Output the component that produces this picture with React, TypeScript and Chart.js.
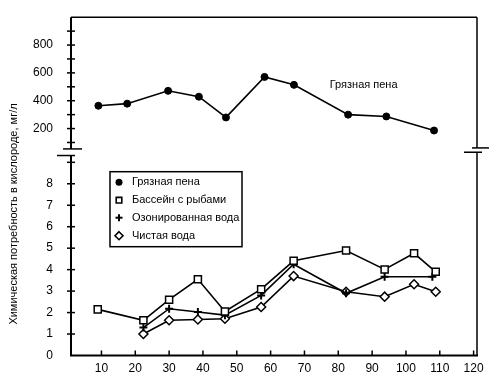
import { useEffect, useRef } from 'react';
import { Chart, registerables } from 'chart.js';

Chart.register(...registerables);

const FONT = "'Liberation Sans', Arial, sans-serif";

// ---- data ----
const SERIES_NAMES = ['Грязная пена', 'Бассейн с рыбами', 'Озонированная вода', 'Чистая вода'];
const Y_TITLE = 'Химическая потребность в кислороде, мг/л';
const NOTE_TEXT = 'Грязная пена';
const NOTE_X = 87.5;
const NOTE_Y = 513;

const X_TICKS = [10, 20, 30, 40, 50, 60, 70, 80, 90, 100, 110, 120];
const TOP_TICKS = [200, 400, 600, 800];
const TOP_MINOR = [100, 200, 300, 400, 500, 600, 700, 800, 900];
const BOTTOM_TICKS = [0, 1, 2, 3, 4, 5, 6, 7, 8];
const BOTTOM_MINOR = [1, 2, 3, 4, 5, 6, 7, 8, 9];

const FOAM_X = [9.1, 17.6, 29.7, 38.8, 46.8, 58.2, 66.9, 82.9, 94.2, 108.3];
const FOAM_Y = [364, 379, 471, 429, 280, 571, 514, 300, 287, 186];

const POOL_X = [8.9, 22.4, 30, 38.5, 46.5, 57.2, 66.8, 82.3, 93.7, 102.4, 108.8];
const POOL_Y = [2.15, 1.64, 2.6, 3.55, 2.05, 3.09, 4.41, 4.89, 4.01, 4.76, 3.9];

const OZONE_X = [22.4, 30, 38.5, 46.5, 57.2, 66.8, 82.3, 93.7, 107.8];
const OZONE_Y = [1.3, 2.18, 2.03, 1.88, 2.8, 4.25, 2.9, 3.67, 3.67];

const CLEAN_X = [22.4, 30, 38.5, 46.5, 57.2, 66.8, 82.3, 93.7, 102.4, 108.8];
const CLEAN_Y = [1.0, 1.64, 1.68, 1.71, 2.26, 3.7, 2.97, 2.74, 3.32, 2.97];

const pts = (xs: number[], ys: number[]) => xs.map((x, i) => ({ x, y: ys[i] }));

function line(ctx: CanvasRenderingContext2D, x1: number, y1: number, x2: number, y2: number) {
  ctx.beginPath();
  ctx.moveTo(x1, y1);
  ctx.lineTo(x2, y2);
  ctx.stroke();
}

function drawMarker(ctx: CanvasRenderingContext2D, kind: string, x: number, y: number) {
  ctx.save();
  ctx.strokeStyle = '#000';
  ctx.fillStyle = '#000';
  if (kind === 'circle') {
    ctx.beginPath();
    ctx.arc(x, y, 3.5, 0, Math.PI * 2);
    ctx.fill();
  } else if (kind === 'rect') {
    ctx.lineWidth = 1.6;
    ctx.fillStyle = '#fff';
    ctx.beginPath();
    ctx.rect(x - 2.8, y - 2.8, 5.6, 5.6);
    ctx.fill();
    ctx.stroke();
  } else if (kind === 'cross') {
    ctx.lineWidth = 2;
    line(ctx, x - 3.5, y, x + 3.5, y);
    line(ctx, x, y - 3.5, x, y + 3.5);
  } else {
    ctx.lineWidth = 1.6;
    ctx.fillStyle = '#fff';
    ctx.beginPath();
    ctx.moveTo(x, y - 4);
    ctx.lineTo(x + 4, y);
    ctx.lineTo(x, y + 4);
    ctx.lineTo(x - 4, y);
    ctx.closePath();
    ctx.fill();
    ctx.stroke();
  }
  ctx.restore();
}

const MARKERS = ['circle', 'rect', 'cross', 'rectRot'];

const decorPlugin = {
  id: 'decor',
  afterDraw(chart: any) {
    const ctx: CanvasRenderingContext2D = chart.ctx;
    const { left, right, top, bottom } = chart.chartArea;
    const xs = chart.scales.x;
    const yT = chart.scales.yTop;
    const yB = chart.scales.yBot;
    const brk = yT.bottom;
    ctx.save();
    ctx.strokeStyle = '#000';
    ctx.lineCap = 'butt';

    // left axis (broken)
    ctx.lineWidth = 2;
    line(ctx, left, top, left, brk - 3.3);
    line(ctx, left, brk + 3.3, left, bottom);
    // bottom axis
    line(ctx, left - 1, bottom, right + 1, bottom);
    // top & right frame
    ctx.lineWidth = 1.5;
    line(ctx, left, top, right, top);
    line(ctx, right, top, right, brk - 4.3);
    line(ctx, right, brk, right, bottom);

    // break marks
    ctx.lineWidth = 1.5;
    line(ctx, left - 8, brk - 3.3, left + 11, brk - 3.3);
    line(ctx, left - 14, brk + 3.3, left + 4, brk + 3.3);
    line(ctx, right - 5, brk - 4.3, right + 12, brk - 4.3);
    line(ctx, right - 13, brk, right + 5, brk);

    // ticks on the left axis (crossing)
    ctx.lineWidth = 1.5;
    TOP_MINOR.forEach((v) => {
      const y = yT.getPixelForValue(v);
      line(ctx, left - 4, y, left + 4, y);
    });
    BOTTOM_MINOR.forEach((v) => {
      const y = yB.getPixelForValue(v);
      line(ctx, left - 4, y, left + 4, y);
    });
    // ticks on x axis (inward)
    X_TICKS.forEach((v) => {
      const x = xs.getPixelForValue(v);
      line(ctx, x, bottom, x, bottom - 5);
    });

    // y title
    ctx.save();
    ctx.translate(14, 214);
    ctx.rotate(-Math.PI / 2);
    ctx.fillStyle = '#000';
    ctx.font = `11px ${FONT}`;
    ctx.textAlign = 'center';
    ctx.textBaseline = 'middle';
    ctx.fillText(Y_TITLE, 0, 0);
    ctx.restore();

    // annotation
    ctx.fillStyle = '#000';
    ctx.font = `11px ${FONT}`;
    ctx.textAlign = 'center';
    ctx.textBaseline = 'middle';
    ctx.fillText(NOTE_TEXT, xs.getPixelForValue(NOTE_X), yT.getPixelForValue(NOTE_Y));

    // legend box
    const bx = left + 39;
    const by = top + 154.5;
    const bw = 132;
    const bh = 75;
    ctx.fillStyle = '#fff';
    ctx.fillRect(bx, by, bw, bh);
    ctx.lineWidth = 1.5;
    ctx.strokeRect(bx, by, bw, bh);
    const rowY = [10.5, 28.5, 46, 64];
    SERIES_NAMES.forEach((name, i) => {
      const y = by + rowY[i];
      drawMarker(ctx, MARKERS[i], bx + 9, y);
      ctx.fillStyle = '#000';
      ctx.font = `11px ${FONT}`;
      ctx.textAlign = 'left';
      ctx.textBaseline = 'middle';
      ctx.fillText(name, bx + 22, y);
    });
    ctx.restore();
  },
};

export default function App() {
  const ref = useRef<HTMLCanvasElement | null>(null);

  useEffect(() => {
    if (!ref.current) return;
    const common = {
      borderColor: '#000',
      borderWidth: 1.6,
      tension: 0,
      fill: false,
      pointBorderColor: '#000',
    };
    const chart = new Chart(ref.current, {
      type: 'line',
      data: {
        datasets: [
          {
            ...common,
            label: SERIES_NAMES[0],
            data: pts(FOAM_X, FOAM_Y),
            yAxisID: 'yTop',
            pointStyle: 'circle',
            pointRadius: 3.5,
            pointBackgroundColor: '#000',
            pointBorderWidth: 1,
          },
          {
            ...common,
            label: SERIES_NAMES[1],
            data: pts(POOL_X, POOL_Y),
            yAxisID: 'yBot',
            pointStyle: 'rect',
            pointRadius: 5,
            pointBackgroundColor: '#fff',
            pointBorderWidth: 1.5,
          },
          {
            ...common,
            label: SERIES_NAMES[2],
            data: pts(OZONE_X, OZONE_Y),
            yAxisID: 'yBot',
            pointStyle: 'cross',
            pointRadius: 4,
            pointBorderWidth: 2,
          },
          {
            ...common,
            label: SERIES_NAMES[3],
            data: pts(CLEAN_X, CLEAN_Y),
            yAxisID: 'yBot',
            pointStyle: 'rectRot',
            pointRadius: 4.5,
            pointBackgroundColor: '#fff',
            pointBorderWidth: 1.5,
          },
        ],
      },
      options: {
        responsive: false,
        animation: false,
        events: [],
        layout: { padding: { top: 13.5, right: 23, bottom: 0, left: 0 } },
        plugins: { legend: { display: false }, tooltip: { enabled: false } },
        scales: {
          x: {
            type: 'linear',
            position: 'bottom',
            min: 1,
            max: 121,
            grid: { display: false },
            border: { display: false },
            afterBuildTicks: (s: any) => {
              s.ticks = X_TICKS.map((v) => ({ value: v }));
            },
            afterFit: (s: any) => {
              s.height = 24.5;
            },
            ticks: { color: '#000', font: { family: FONT, size: 12 }, padding: -2, maxRotation: 0, autoSkip: false },
          },
          yBot: {
            type: 'linear',
            position: 'left',
            stack: 'y',
            stackWeight: 205.5,
            weight: 0,
            min: 0,
            max: 9.47,
            grid: { display: false },
            border: { display: false },
            afterBuildTicks: (s: any) => {
              s.ticks = BOTTOM_TICKS.map((v) => ({ value: v }));
            },
            afterFit: (s: any) => {
              s.width = 71;
            },
            ticks: { color: '#000', font: { family: FONT, size: 12 }, padding: 10, autoSkip: false },
          },
          yTop: {
            type: 'linear',
            position: 'left',
            stack: 'y',
            stackWeight: 136.5,
            weight: 1,
            min: 30,
            max: 1000,
            grid: { display: false },
            border: { display: false },
            afterBuildTicks: (s: any) => {
              s.ticks = TOP_TICKS.map((v) => ({ value: v }));
            },
            afterFit: (s: any) => {
              s.width = 71;
            },
            ticks: { color: '#000', font: { family: FONT, size: 12 }, padding: 10, autoSkip: false },
          },
        },
      } as any,
      plugins: [decorPlugin],
    });
    return () => chart.destroy();
  }, []);

  return (
    <div style={{ position: 'fixed', left: 0, top: 0, width: 500, height: 380, background: '#fff' }}>
      <canvas ref={ref} width={500} height={380} style={{ display: 'block' }} />
    </div>
  );
}
